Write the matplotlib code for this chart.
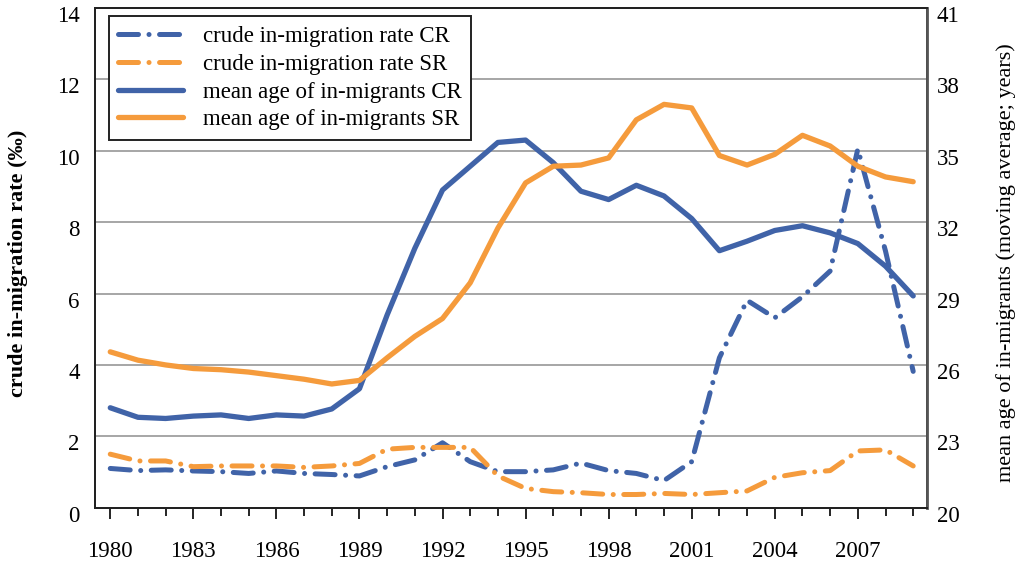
import numpy as np
import matplotlib
matplotlib.use("Agg")
import matplotlib.pyplot as plt
from matplotlib.ticker import MultipleLocator
from matplotlib.transforms import ScaledTranslation

plt.rcParams["font.family"] = ["Liberation Serif", "DejaVu Serif"]

years = list(range(1980, 2010))

# crude in-migration rate (per mille), left axis
rate_cr = [1.10, 1.04, 1.06, 1.03, 1.01, 0.96, 1.03, 0.96, 0.93, 0.89,
           1.15, 1.34, 1.82, 1.29, 1.01, 1.01, 1.06, 1.25, 1.04, 0.96,
           0.76, 1.29, 4.20, 5.81, 5.32, 5.91, 6.63, 10.05, 7.19, 3.82]
rate_sr = [1.50, 1.31, 1.31, 1.15, 1.17, 1.17, 1.17, 1.13, 1.17, 1.24,
           1.64, 1.69, 1.69, 1.69, 0.89, 0.54, 0.45, 0.42, 0.37, 0.37,
           0.40, 0.37, 0.42, 0.47, 0.85, 0.98, 1.04, 1.59, 1.62, 1.17]

# mean age of in-migrants (years), right axis
age_cr = [24.2, 23.8, 23.75, 23.85, 23.9, 23.75, 23.9, 23.85, 24.15, 25.0,
          28.1, 30.9, 33.35, 34.35, 35.35, 35.45, 34.5, 33.3, 32.95, 33.55,
          33.1, 32.15, 30.8, 31.2, 31.65, 31.85, 31.55, 31.1, 30.15, 28.9]
age_sr = [26.55, 26.2, 26.0, 25.85, 25.8, 25.7, 25.55, 25.4, 25.2, 25.35,
          26.3, 27.2, 27.95, 29.45, 31.75, 33.65, 34.35, 34.4, 34.7, 36.3,
          36.95, 36.8, 34.8, 34.4, 34.85, 35.65, 35.2, 34.35, 33.9, 33.7]

labels = ["crude in-migration rate CR", "crude in-migration rate SR",
          "mean age of in-migrants CR", "mean age of in-migrants SR"]

BLUE = "#4063A8"
ORANGE = "#F59B3C"
FS = 16.5

fig = plt.figure(figsize=(10.23, 5.63), dpi=100)
ax = fig.add_axes([0.0929, 0.0982, 0.8133, 0.8876])
ax2 = ax.twinx()

dashdot = (0, (4, 2.1, 0.01, 2.1))
l1, = ax.plot(years, rate_cr, color=BLUE, lw=3.6, linestyle=dashdot,
              dash_capstyle="round", label=labels[0])
l2, = ax.plot(years, rate_sr, color=ORANGE, lw=3.6, linestyle=dashdot,
              dash_capstyle="round", label=labels[1])
l3, = ax2.plot(years, age_cr, color=BLUE, lw=3.8, solid_capstyle="round",
               label=labels[2])
l4, = ax2.plot(years, age_sr, color=ORANGE, lw=3.8, solid_capstyle="round",
               label=labels[3])

ax.set_xlim(1979.45, 2009.5)
ax.set_ylim(0, 14)
ax2.set_ylim(20, 41)
ax.set_yticks(np.arange(0, 15, 2))
ax2.set_yticks(np.arange(20, 42, 3))
ax.set_xticks(range(1980, 2008, 3))
ax.xaxis.set_minor_locator(MultipleLocator(1))

ax.grid(axis="y", color="#a6a6a6", lw=1.4)
ax.set_axisbelow(True)

ax.tick_params(axis="x", which="major", direction="out", length=8, width=1.2,
               pad=16, labelsize=FS)
ax.tick_params(axis="x", which="minor", direction="out", length=6, width=1.2)
ax.tick_params(axis="y", length=0, pad=11, labelsize=FS)
ax2.tick_params(axis="y", length=0, pad=7, labelsize=FS)

# tick labels sit slightly below their gridlines in the original
off = ScaledTranslation(0, -0.06, fig.dpi_scale_trans)
for lab in ax.get_yticklabels() + ax2.get_yticklabels():
    lab.set_transform(lab.get_transform() + off)

for sp in ax.spines.values():
    sp.set_linewidth(1.4)
    sp.set_color("#222222")
for sp in ax2.spines.values():
    sp.set_linewidth(1.4)
    sp.set_color("#222222")
ax2.spines["right"].set_color("#555555")
ax2.spines["right"].set_linewidth(2)

ax.set_ylabel("crude in-migration rate (‰)", fontsize=16, fontweight="bold")
ax.yaxis.set_label_coords(-0.081, 0.49)
ax2.set_ylabel("mean age of in-migrants (moving average; years)", fontsize=16,
               rotation=90)
ax2.yaxis.set_label_coords(1.083, 0.49)

leg = ax2.legend(handles=[l1, l2, l3, l4], loc="upper left",
                 bbox_to_anchor=(0.017, 0.983), fontsize=FS, frameon=True,
                 fancybox=False, edgecolor="#222222", handlelength=2.8,
                 borderpad=0.4, labelspacing=0.3, handletextpad=0.9,
                 borderaxespad=0)
leg.get_frame().set_linewidth(1.4)
leg.get_frame().set_alpha(1)

fig.savefig("out.png", dpi=100)
